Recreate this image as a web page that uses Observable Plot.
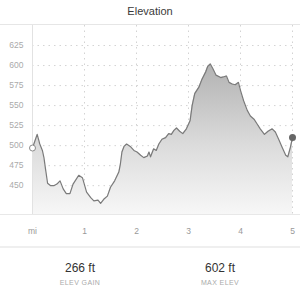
<!DOCTYPE html>
<html>
<head>
<meta charset="utf-8">
<script src="https://cdn.jsdelivr.net/npm/d3@7"></script>
<script src="https://cdn.jsdelivr.net/npm/@observablehq/plot@0.6"></script>
<style>
  html, body { margin: 0; padding: 0; background: #fff; }
  body { width: 300px; height: 298px; overflow: hidden; font-family: "Liberation Sans", Arial, Helvetica, sans-serif; }
  #title { height: 24px; line-height: 23px; text-align: center; font-size: 11px; color: #3a3a3a; border-bottom: 1px solid #e6e6e6; }
  #chart { position: relative; height: 221px; border-bottom: 2px solid #efefef; }
  #chart svg { display: block; }
  #baseline { position: absolute; left: 0; top: 189px; width: 300px; height: 1px; background: #e8e8e8; }
  #stats { display: flex; padding: 0 10px; }
  .stat { flex: 1; text-align: center; }
  .val { font-size: 12px; color: #333; margin-top: 13px; line-height: 14px; }
  .lab { font-size: 7px; color: #aaa; letter-spacing: 0.4px; margin-top: 4px; }
</style>
</head>
<body>
<div id="title">Elevation</div>
<div id="chart"><div id="baseline"></div></div>
<div id="stats"></div>
<script>
// distance in miles
const miles = [0.0,0.09,0.14,0.19,0.22,0.25,0.29,0.35,0.41,0.47,0.53,0.59,0.65,0.72,0.78,0.89,0.96,1.04,1.12,1.18,1.26,1.31,1.37,1.44,1.50,1.58,1.66,1.69,1.72,1.76,1.81,1.88,1.95,2.01,2.08,2.14,2.21,2.24,2.27,2.33,2.38,2.43,2.49,2.56,2.62,2.67,2.72,2.77,2.83,2.89,2.96,3.03,3.07,3.12,3.20,3.26,3.33,3.37,3.42,3.47,3.53,3.62,3.68,3.73,3.78,3.84,3.90,3.96,4.00,4.06,4.13,4.19,4.26,4.32,4.38,4.46,4.53,4.61,4.67,4.74,4.80,4.87,4.91,4.96,5.00];
// elevation in feet
const elev = [497,514,502,494,485,471,453,450,450,452,456,446,440,440,452,463,460,442,435,431,432,428,433,437,448,456,467,477,492,499,502,499,494,492,488,485,487,492,486,496,494,502,508,510,515,514,519,522,518,515,521,531,550,565,573,583,592,599,602,596,588,585,586,587,579,577,576,579,569,556,544,537,533,527,521,514,518,521,517,507,498,488,486,498,510];
const yGrid = [425,450,475,500,525,550,575,600,625];
const yLabels = [450,475,500,525,550,575,600,625];
const xTicks = [0,1,2,3,4,5];
const xGrid = [1,2,3,4,5];
const yDomain = [414, 650];
const statValues = ["266 ft", "602 ft"];
const statLabels = ["ELEV GAIN", "MAX ELEV"];

const data = miles.map((m, i) => ({mi: m, ft: elev[i]}));
const first = [data[0]];
const last = [data[data.length - 1]];

const plot = Plot.plot({
  width: 300,
  height: 221,
  marginLeft: 32,
  marginRight: 8,
  marginTop: 0,
  marginBottom: 32,
  style: {fontFamily: "'Liberation Sans', Arial, sans-serif", fontSize: "8.5px", color: "#aaa", background: "transparent", overflow: "visible"},
  x: {domain: [0, 5], label: null},
  y: {domain: yDomain, label: null},
  marks: [
    () => {
      const svg = d3.create("svg:defs");
      const g = svg.append("linearGradient").attr("id", "elevGrad").attr("x1", 0).attr("x2", 0).attr("y1", 0).attr("y2", 1);
      g.append("stop").attr("offset", "0%").attr("stop-color", "#b2b2b2");
      g.append("stop").attr("offset", "55%").attr("stop-color", "#dcdcdc");
      g.append("stop").attr("offset", "100%").attr("stop-color", "#f7f7f7");
      return svg.node();
    },
    Plot.gridY(yGrid, {stroke: "#c8c8c8", strokeOpacity: 1, strokeWidth: 0.8, strokeDasharray: "1.5,4"}),
    Plot.gridX(xGrid, {stroke: "#c8c8c8", strokeOpacity: 1, strokeWidth: 0.8, strokeDasharray: "1.5,4"}),
    Plot.areaY(data, {x: "mi", y1: yDomain[0], y2: "ft", fill: "url(#elevGrad)"}),
    Plot.line(data, {x: "mi", y: "ft", stroke: "#7a7a7a", strokeWidth: 1.2}),
    Plot.ruleX([0], {stroke: "#e2e2e2", strokeWidth: 1}),
    Plot.axisX(xTicks, {tickSize: 0, tickPadding: 13, tickFormat: d => d === 0 ? "mi" : String(d), fill: "#999", fontSize: 8.5}),
    Plot.axisY(yLabels, {tickSize: 0, tickPadding: 9, fill: "#aaa", fontSize: 8.5}),
    Plot.dot(first, {x: "mi", y: "ft", r: 3, fill: "#fff", stroke: "#8a8a8a", strokeWidth: 1}),
    Plot.dot(last, {x: "mi", y: "ft", r: 3.5, fill: "#666", stroke: "none"})
  ]
});
document.getElementById("chart").prepend(plot);

const stats = document.getElementById("stats");
statValues.forEach((v, i) => {
  const d = document.createElement("div");
  d.className = "stat";
  d.innerHTML = `<div class="val">${v}</div><div class="lab">${statLabels[i]}</div>`;
  stats.appendChild(d);
});
</script>
</body>
</html>
